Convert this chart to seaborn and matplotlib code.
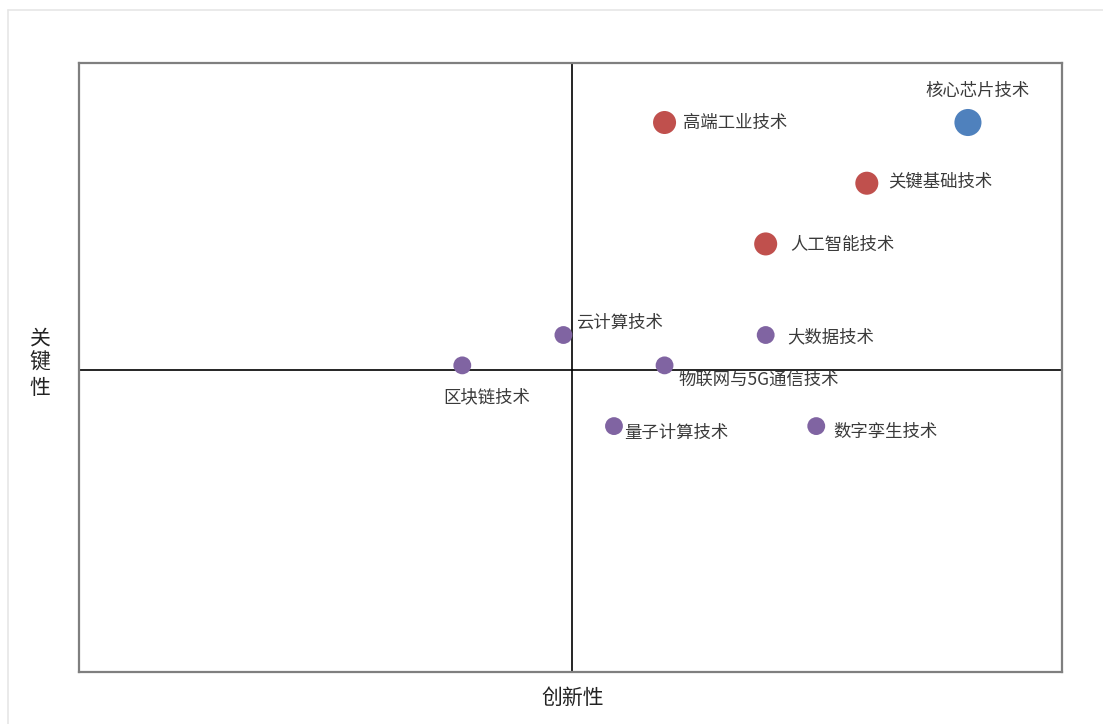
import matplotlib
matplotlib.use("Agg")
import matplotlib.pyplot as plt
import seaborn as sns
import pandas as pd
from matplotlib.lines import Line2D

# ---- data ----
names = ["核心芯片技术", "高端工业技术", "关键基础技术", "人工智能技术", "云计算技术",
         "大数据技术", "区块链技术", "物联网与5G通信技术", "量子计算技术", "数字孪生技术"]
innovation = [9.0, 6.0, 8.0, 7.0, 5.0, 7.0, 4.0, 6.0, 5.5, 7.5]
criticality = [9.0, 9.0, 8.0, 7.0, 5.5, 5.5, 5.0, 5.0, 4.0, 4.0]
groups = ["A", "B", "B", "B", "C", "C", "C", "C", "C", "C"]
x_mid = 5.08
y_mid = 4.92

df = pd.DataFrame({"name": names, "x": innovation, "y": criticality, "g": groups})

sns.set_theme(style="white")
plt.rcParams["font.family"] = ["Noto Sans CJK SC", "DejaVu Sans"]

fig = plt.figure(figsize=(11.03, 7.24), dpi=100)
ax = fig.add_axes([79 / 1103, 1 - 672 / 724, 983 / 1103, 609 / 724])

palette = {"A": "#4F81BD", "B": "#C0504D", "C": "#8064A2"}
sizes = {"A": 380, "B": 275, "C": 165}
sns.scatterplot(data=df, x="x", y="y", hue="g", size="g", palette=palette,
                sizes=sizes, legend=False, edgecolor="none", ax=ax, zorder=3)

ax.set_xlim(0.21, 9.93)
ax.set_ylim(-0.05, 9.98)
ax.axvline(x_mid, color="black", lw=1.2, zorder=2)
ax.axhline(y_mid, color="black", lw=1.2, zorder=2)
ax.set_xticks([])
ax.set_yticks([])
ax.set_xlabel("")
ax.set_ylabel("")
for s in ax.spines.values():
    s.set_color("#7f7f7f")
    s.set_linewidth(1.6)

# label offsets in pixels (dx right, dy down), ha
offsets = {
    "核心芯片技术": (10, -32, "center"),
    "高端工业技术": (18, 0, "left"),
    "关键基础技术": (21, -2, "left"),
    "人工智能技术": (25, 1, "left"),
    "云计算技术": (13, -12, "left"),
    "大数据技术": (22, 2, "left"),
    "区块链技术": (24, 32, "center"),
    "物联网与5G通信技术": (14, 14, "left"),
    "量子计算技术": (10, 7, "left"),
    "数字孪生技术": (17, 6, "left"),
}
for n, xv, yv in zip(names, innovation, criticality):
    dx, dy, ha = offsets[n]
    ax.annotate(n, (xv, yv), xytext=(dx * 0.72, -dy * 0.72), textcoords="offset points",
                ha=ha, va="center", fontsize=12.5, color="#3a3a3a", zorder=4)

fig.text(573 / 1103, 1 - 698 / 724, "创新性", ha="center", va="center",
         fontsize=15, color="#222222")
fig.text(40 / 1103, 1 - 363 / 724, "关\n键\n性", ha="center", va="center",
         fontsize=15, color="#222222", linespacing=1.15)

# light outer frame (left and top edges visible)
fig.add_artist(Line2D([8 / 1103, 8 / 1103], [0, 1 - 10 / 724], transform=fig.transFigure,
                      color="#e6e6e6", lw=1.2))
fig.add_artist(Line2D([8 / 1103, 1], [1 - 10 / 724, 1 - 10 / 724], transform=fig.transFigure,
                      color="#e6e6e6", lw=1.2))

fig.savefig("out.png", dpi=100)
